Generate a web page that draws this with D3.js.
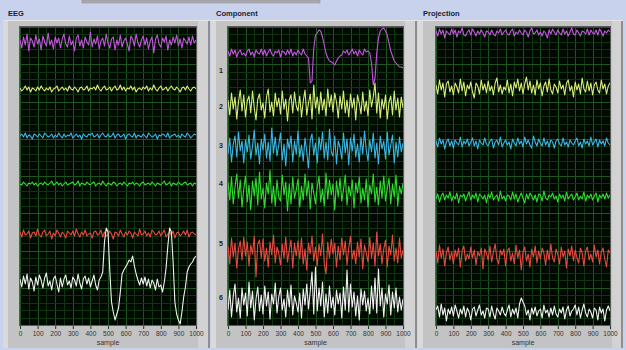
<!DOCTYPE html>
<html>
<head>
<meta charset="utf-8">
<script src="https://cdn.jsdelivr.net/npm/d3@7"></script>
<style>
  body { margin: 0; background: #c8d2ec; }
  svg { display: block; }
  text { font-family: "Liberation Sans", Arial, sans-serif; }
</style>
</head>
<body>
<svg id="chart" width="626" height="350"></svg>
<script>
// --- data: one value every 10 samples (0..1000), deviation from the trace baseline ---
var sampleTicks = [0, 100, 200, 300, 400, 500, 600, 700, 800, 900, 1000];
var panelTitles = ["EEG", "Component", "Projection"];
var componentLabels = ["1", "2", "3", "4", "5", "6"];
var componentLabelValues = [255, 219, 180, 142, 82, 28];

// baselines (offsets) of the six stacked traces, per panel, top to bottom
var eegBaselines = [283, 236, 189, 141, 91, 43];
var compBaselines = [272, 220, 177, 133, 73, 23];
var projBaselines = [292, 237, 182, 128, 70, 13];

var eegPurple = [2,-6,5,-3,8,-9,4,1,-5,7, -2,3,-8,6,0,-4,9,-3,2,-7, 5,-1,4,-6,3,8,-2,-5,6,-3,
  1,-9,4,7,-4,2,-6,5,0,-3, 10,-5,3,-2,6,-7,1,4,-4,8, -1,-6,3,5,-8,2,-3,7,-5,1,
  4,-2,-9,6,3,-4,8,-1,-5,2, 6,-3,4,-7,1,5,-11,3,7,-2, -5,4,0,6,-8,2,-3,5,-1,7, -4,3,-6,4,1,-2,5,-3,6,-1, 2];
var eegYellow = [1,-2,0,3,-1,2,-3,1,0,-2, 2,-1,3,0,-2,1,-1,2,-3,0, 1,3,-2,0,2,-1,1,-2,3,0,
  -1,2,0,-3,1,2,-1,0,3,-2, 1,0,2,-1,4,0,-2,1,3,-1, 0,2,-2,1,3,-1,0,4,-1,2,
  -2,1,0,3,-1,2,-3,0,1,-1, 2,0,3,-2,1,-1,4,0,-2,1, 3,-1,0,2,-2,1,3,0,-1,2, 0,-3,1,2,-1,3,0,-2,1,2, 0];
var eegBlue = [0,2,-1,3,-2,1,0,-3,2,1, -1,2,0,-2,3,1,-1,0,2,-2, 1,-1,3,0,-2,2,-1,1,0,3,
  -2,0,2,-1,1,-3,2,0,-1,2, 1,3,-1,0,2,-2,1,3,0,-1, 2,-1,0,3,-2,1,2,-1,0,2,
  -3,1,2,0,-1,3,-2,1,0,-1, 2,0,-2,3,1,-1,0,2,-3,1, 0,2,1,-1,3,-2,0,1,2,-1, 1,-2,2,0,-1,3,1,-2,0,2, 1];
var eegGreen = [0,-1,2,0,-2,1,0,2,-1,1, -2,0,1,-1,2,0,-1,1,3,-1, 0,2,-1,1,-2,0,2,-1,0,1,
  2,-1,0,3,-2,1,0,-1,2,0, -1,1,2,-2,0,1,-1,3,0,-2, 1,0,-1,2,1,-2,0,1,-1,2,
  0,-2,1,0,2,-1,1,0,-2,1, 2,-1,0,1,-1,2,0,-2,1,0, -1,1,3,-1,0,2,-2,1,0,-1, 2,0,-1,1,2,-1,0,1,-2,1, 0];
var eegRed = [2,-3,4,-1,0,3,-4,1,2,-2, 5,-1,-3,2,4,-2,0,3,-5,1, -2,4,1,-3,2,0,-4,3,1,-1,
  3,-2,5,0,-3,2,-1,4,-2,0, 1,-4,2,3,-1,0,4,-3,2,-2, -1,3,0,-5,2,1,-2,4,0,-3,
  2,-1,3,1,-4,2,0,-2,5,-1, 0,3,-2,1,-3,4,2,-1,0,3, -2,1,4,-3,0,2,-1,3,-4,1, 2,-2,0,3,-1,4,-3,1,2,0, -1];
var eegWhite = [3,-5,6,-2,8,-7,4,0,-9,5, -3,7,2,-6,4,9,-4,1,-8,3, 6,-2,-10,4,-5,3,7,-3,1,-6,
  5,2,-4,8,-1,-7,3,6,-2,4, -5,1,7,-3,-8,2,5,10,40,54, 50,12,-20,-30,-38,-32,-26,-10,8,12,
  15,18,22,20,26,16,8,2,-3,4, -2,5,-4,3,-6,2,-1,-8,3,-5, -3,-10,0,14,36,54,50,20,-20,-32,
  -38,-42,-30,-15,-5,10,15,18,20,24, 26];

var compPurple = [2,-3,4,-1,3,-4,1,3,-2,0, -3,2,4,-2,1,-4,3,0,-1,4, -2,3,-3,1,4,-1,-3,2,0,3,
  -4,2,1,-2,3,-1,4,-3,1,-2, 3,0,-2,4,-1,-3,-5,-30,-28,5, 18,20,23,22,16,8,0,-5,-8,-9,
  -10,-12,-8,-5,-3,-2,2,0,3,-2, 1,4,-1,2,-3,3,0,-2,4,1, 2,0,-10,-32,-25,0,15,22,24,25,
  22,18,10,2,-3,-8,-10,-12,-14,-14, -15];
var compYellow = [5,-10,12,-4,8,-14,3,15,-6,10, -12,4,9,-8,14,-3,-15,6,11,-5, 2,-13,8,16,-7,3,-11,12,-2,7,
  -9,14,-4,6,-16,5,10,-8,13,-1, -6,9,-12,4,15,-10,2,11,-14,20, -3,8,-9,13,-5,6,-11,16,-2,10,
  -7,12,3,-13,9,-4,14,-8,5,-12, 11,-3,7,-15,10,2,-9,13,-6,4, -11,15,-2,8,22,-8,12,-13,6,-4,
  10,-14,3,9,-10,14,-5,7,-12,8, -3];
var compBlue = [-6,10,-14,4,12,-9,16,-3,7,-15, 8,-4,13,-11,2,18,-7,5,-16,9, -2,14,-10,6,-13,20,-5,11,-8,3,
  15,-12,4,-18,9,-1,12,-14,7,-6, 17,-9,3,-13,10,-4,-20,8,14,-7, 5,-15,11,-2,16,-10,6,-12,19,-4,
  -8,12,-16,7,1,-11,15,-5,9,-17, 10,-3,14,-9,4,-14,11,-6,17,-2, -13,8,-4,15,-10,5,-16,12,-1,7,
  -11,16,-7,3,13,-15,6,-9,11,-4, 5];
var compGreen = [10,-8,15,-12,5,18,-6,12,-15,3, 16,-10,7,-18,11,-4,14,-13,20,-7, 4,-16,9,-2,22,-11,6,-14,12,-5,
  -9,17,-3,10,-19,8,-12,15,-6,2, 13,-15,6,-8,18,-4,11,-17,9,-1, -12,5,16,-10,3,-14,19,-7,12,-3,
  8,-18,11,-5,14,-9,2,17,-13,6, -4,12,-16,9,-1,15,-11,4,-8,13, -15,7,-2,18,-10,5,-13,11,-6,16,
  -9,3,14,-12,8,-5,17,-14,6,-2, 9];
var compRed = [6,-12,14,-5,9,-16,3,11,-8,15, -4,10,-14,7,-2,16,-25,8,12,-6, 13,-9,4,-15,10,-3,17,-11,5,-1,
  -13,8,-6,15,-10,2,12,-16,9,-4, 11,-7,14,-12,3,-18,9,-2,16,-9, 5,-14,8,-4,18,-11,-22,10,-6,13,
  -2,9,-15,6,-8,14,-3,11,-13,4, 16,-7,2,-12,10,-5,13,-17,7,-1, -10,15,-6,9,-14,20,-4,8,-12,3,
  12,-15,6,-3,17,-9,4,-11,14,-6, 2];
var compWhite = [-8,12,-15,6,18,-10,4,-16,14,-3, 9,-14,20,-6,11,-18,3,15,-9,7, -12,16,-4,10,-17,8,-2,19,-11,5,
  14,-8,3,-15,12,-5,17,-13,6,-1, -10,9,-16,13,-3,18,-7,11,30,-12, 35,-9,14,-4,20,-15,8,-11,16,-6,
  5,-13,12,-2,9,-16,15,-8,32,-10, 18,-5,10,-14,6,-18,13,-3,11,-9, 4,-12,16,-7,24,-11,33,-4,14,-15,
  8,-2,17,-13,10,-6,14,-10,5,-8, 3];

var projPurple = [2,-3,4,-1,3,-5,2,0,-2,4, -1,3,-4,2,0,5,-2,-3,1,3, -2,4,1,-3,2,-1,3,0,-4,2,
  1,-2,3,-1,-3,2,0,4,-2,1, 3,-1,-2,2,4,-3,1,-1,3,0, -2,3,1,-4,2,5,-1,0,3,-2,
  1,-3,2,0,-5,3,-1,4,1,-2, 3,0,-2,4,-1,2,-3,1,5,-1, -2,3,0,-3,2,1,-1,4,-2,3, 0,-1,3,-2,4,1,-3,2,0,3, 1];
var projYellow = [3,-6,8,-2,5,-9,4,7,-4,2, -7,5,1,-5,9,-3,6,-8,3,-1, 6,-4,-10,5,2,-6,8,-2,4,-5,
  7,-3,2,-7,5,10,-4,3,-6,1, -2,8,-5,4,-8,6,0,9,-3,5, -6,4,11,-2,7,-5,3,-7,8,-1,
  5,-8,2,6,-4,9,-2,-6,4,1, -5,7,-1,3,-7,5,8,-3,2,-9, 6,-2,4,-6,10,-1,-4,7,-3,5, -7,3,6,-2,-5,8,-1,4,-6,2, 5];
var projBlue = [2,-4,5,-1,3,-6,1,4,-3,2, -5,3,0,-2,6,-4,2,-1,4,-3, 1,5,-3,2,-6,3,0,-2,5,-1,
  -3,2,4,-5,1,3,-2,6,-4,0, 3,-2,1,-6,4,0,-3,5,-1,2, -4,6,-1,3,-2,-5,7,1,-3,4,
  0,-3,5,-2,2,-4,3,1,-5,2, 4,-1,-3,5,-2,1,-4,3,0,-2, 2,5,-3,1,-5,4,-1,2,-3,6, -2,1,4,-4,3,-1,2,-3,5,0, -2];
var projGreen = [-2,3,-5,1,4,-3,2,-1,5,-4, 1,-2,4,-6,2,0,3,-4,1,5, -3,2,-1,4,-5,3,1,-2,2,-6,
  3,-1,5,-3,0,2,-4,6,-2,1, -4,2,1,-3,5,-2,3,-5,0,4, -1,-6,3,-2,4,1,-3,2,-5,3,
  2,-4,6,-1,-3,2,0,4,-2,1, -5,3,-1,2,-4,5,-2,1,3,-3, 0,4,-3,1,-2,5,-4,2,-1,3, -3,1,4,-5,2,-1,3,-2,4,-1, 2];
var projRed = [4,-8,10,-3,6,-11,2,8,-5,3, -9,5,-2,7,-12,4,9,-6,1,-4, 8,-3,5,-10,3,-1,7,-14,6,2,
  -5,9,-7,3,11,-4,-9,5,0,6, -11,4,7,-6,2,-9,10,-3,5,-15, 3,8,-6,1,-12,6,-2,9,-8,4,
  -4,7,2,-10,5,-5,11,-3,-7,6, 1,-9,8,-2,4,-13,6,-1,9,-6, 5,-3,-8,7,2,-11,4,8,-5,1, -7,10,-2,5,-9,3,7,-4,-12,5, 2];
var projWhite = [2,6,-5,8,-3,4,-9,3,-2,5, -4,7,1,-6,3,-2,6,-5,4,0, -8,3,5,-4,2,7,-3,1,-6,4,
  3,-5,6,-2,-7,4,1,-3,5,-1, -4,2,7,-5,3,-2,4,-6,8,14, 10,6,-3,2,-8,4,-2,5,-4,1,
  3,-6,7,-1,2,-5,4,-3,6,-2, -5,3,-1,5,-7,2,6,-4,1,3, 7,-3,5,-6,2,8,-1,-5,3,0, -6,4,2,-8,5,-1,3,-9,2,6, 1];

var eegTraces = [eegPurple, eegYellow, eegBlue, eegGreen, eegRed, eegWhite];
var compTraces = [compPurple, compYellow, compBlue, compGreen, compRed, compWhite];
var projTraces = [projPurple, projYellow, projBlue, projGreen, projRed, projWhite];

// --- layout / style ---
var traceColors = ["#c455e0", "#d8ee78", "#3cb6e8", "#30dc30", "#e84a40", "#f2f2f2"];
var panels = [
  { frameX: 3,   frameW: 207, plotL: 20,  plotR: 196, traces: eegTraces,  base: eegBaselines },
  { frameX: 211, frameW: 206, plotL: 228, plotR: 403, traces: compTraces, base: compBaselines, labels: true },
  { frameX: 418, frameW: 205, plotL: 436, plotR: 610, traces: projTraces, base: projBaselines }
];
var plotTop = 27, plotBottom = 325;

var svg = d3.select("#chart");
var defs = svg.append("defs");

// tab strip at the very top
svg.append("rect").attr("x", 82).attr("y", 0).attr("width", 238).attr("height", 3)
  .attr("fill", "#a9a9ae").attr("stroke", "#8c8c94").attr("stroke-width", 0.5);

var y = d3.scaleLinear().domain([0, 298]).range([plotBottom, plotTop]);

panels.forEach(function (p, pi) {
  var g = svg.append("g");

  // raised grey frame
  g.append("rect").attr("x", p.frameX).attr("y", 20).attr("width", p.frameW).attr("height", 328)
    .attr("fill", "#c3c3c3");
  g.append("rect").attr("x", p.frameX).attr("y", 20).attr("width", 5).attr("height", 328)
    .attr("fill", "#dadada");
  g.append("rect").attr("x", p.plotR + 2).attr("y", 20).attr("width", p.frameX + p.frameW - p.plotR - 4).attr("height", 328)
    .attr("fill", "#d2d2d2");
  g.append("rect").attr("x", p.frameX + p.frameW - 2).attr("y", 20).attr("width", 2).attr("height", 328)
    .attr("fill", "#8e8e8e");
  g.append("rect").attr("x", p.frameX).attr("y", 20).attr("width", p.frameW).attr("height", 1)
    .attr("fill", "#e6e6e6");

  // title
  svg.append("text").attr("x", p.frameX + 5).attr("y", 16)
    .attr("font-size", 7.5).attr("font-weight", "bold").attr("fill", "#1c1c30")
    .text(panelTitles[pi]);

  var x = d3.scaleLinear().domain([0, 1000]).range([p.plotL, p.plotR]);

  // plot background
  g.append("rect").attr("x", p.plotL).attr("y", plotTop)
    .attr("width", p.plotR - p.plotL).attr("height", plotBottom - plotTop)
    .attr("fill", "#000a00");

  // grid
  var grid = g.append("g");
  grid.selectAll("line.v").data(d3.range(0, 1001, 50)).join("line")
    .attr("x1", function (d) { return Math.round(x(d)) + 0.5; })
    .attr("x2", function (d) { return Math.round(x(d)) + 0.5; })
    .attr("y1", plotTop).attr("y2", plotBottom)
    .attr("stroke", function (d) { return d % 100 === 0 ? "#1f561f" : "#0f3410"; })
    .attr("stroke-width", 1);
  grid.selectAll("line.h").data(d3.range(0, 298.1, 298 / 40)).join("line")
    .attr("y1", function (d) { return Math.round(y(d)) + 0.5; })
    .attr("y2", function (d) { return Math.round(y(d)) + 0.5; })
    .attr("x1", p.plotL).attr("x2", p.plotR)
    .attr("stroke", function (d, i) { return i % 5 === 0 ? "#1f561f" : "#0f3410"; })
    .attr("stroke-width", 1);

  // traces, clipped to the plot
  var clipId = "clip" + pi;
  defs.append("clipPath").attr("id", clipId).append("rect")
    .attr("x", p.plotL).attr("y", plotTop)
    .attr("width", p.plotR - p.plotL).attr("height", plotBottom - plotTop);

  var tg = g.append("g").attr("clip-path", "url(#" + clipId + ")");
  p.traces.forEach(function (vals, ci) {
    var n = vals.length;
    var line = d3.line()
      .x(function (d, i) { return x(i * 1000 / (n - 1)); })
      .y(function (d) { return y(p.base[ci] + d); });
    tg.append("path").datum(vals)
      .attr("d", line)
      .attr("fill", "none")
      .attr("stroke", traceColors[ci])
      .attr("stroke-width", 1.1)
      .attr("stroke-linejoin", "round");
  });

  // plot border
  g.append("rect").attr("x", p.plotL - 0.5).attr("y", plotTop - 0.5)
    .attr("width", p.plotR - p.plotL + 1).attr("height", plotBottom - plotTop + 1)
    .attr("fill", "none").attr("stroke", "#5a5a5a").attr("stroke-width", 1);

  // x axis
  var ax = g.append("g").attr("transform", "translate(0," + (plotBottom + 1) + ")")
    .call(d3.axisBottom(x).tickValues(sampleTicks).tickSize(3).tickPadding(2).tickFormat(d3.format("d")));
  ax.select(".domain").remove();
  ax.selectAll("line").attr("stroke", "#303030");
  ax.selectAll("text").attr("font-size", 6.5).attr("fill", "#333").attr("font-family", "Liberation Sans, Arial, sans-serif");

  g.append("text").attr("x", (p.plotL + p.plotR) / 2).attr("y", 345)
    .attr("text-anchor", "middle").attr("font-size", 7).attr("fill", "#333")
    .text("sample");

  // channel numbers on the Component plot
  if (p.labels) {
    g.selectAll("text.ch").data(componentLabels).join("text")
      .attr("x", p.plotL - 7).attr("y", function (d, i) { return y(componentLabelValues[i]) + 2.5; })
      .attr("text-anchor", "middle").attr("font-size", 7).attr("font-weight", "bold").attr("fill", "#222")
      .text(function (d) { return d; });
  }
});
</script>
</body>
</html>
